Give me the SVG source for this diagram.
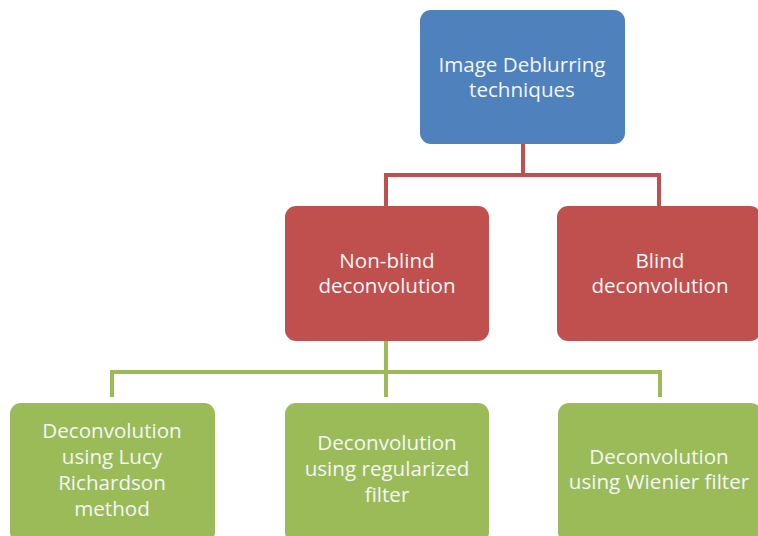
<svg xmlns="http://www.w3.org/2000/svg" width="758" height="536" viewBox="0 0 758 536">
<style>
.blue{fill:#4F81BD}
.red{fill:#C0504D}
.green{fill:#9BBB59}
.t{font-family:"Open Sans","Liberation Sans",Arial,sans-serif;font-size:20.6px;fill:#f4f6f8;text-anchor:middle}
.cr{stroke:#C0504D;stroke-width:4;fill:none}
.cg{stroke:#9BBB59;stroke-width:4;fill:none}
</style>
<rect width="758" height="536" fill="#ffffff"/>
<g id="connectors">
<path class="cr" d="M523,144 V175 M386,175 H660 M386,173 V206 M659,173 V206"/>
<path class="cg" d="M386,341 V397 M112,372 H662 M112,370 V397 M660,370 V397"/>
</g>
<g id="n_top">
<rect class="blue" x="420" y="10" width="205" height="134" rx="11"/>
<text class="t" x="522" y="72">Image Deblurring</text>
<text class="t" x="522" y="97">techniques</text>
</g>
<g id="n_nonblind">
<rect class="red" x="285" y="206" width="204" height="135" rx="11"/>
<text class="t" x="387" y="268">Non-blind</text>
<text class="t" x="387" y="293">deconvolution</text>
</g>
<g id="n_blind">
<rect class="red" x="557" y="206" width="204" height="135" rx="11"/>
<text class="t" x="660" y="268">Blind</text>
<text class="t" x="660" y="293">deconvolution</text>
</g>
<g id="n_lucy">
<rect class="green" x="10" y="403" width="205" height="140" rx="11"/>
<text class="t" x="112" y="438">Deconvolution</text>
<text class="t" x="112" y="464">using Lucy</text>
<text class="t" x="112" y="490">Richardson</text>
<text class="t" x="112" y="516">method</text>
</g>
<g id="n_reg">
<rect class="green" x="285" y="403" width="204" height="140" rx="11"/>
<text class="t" x="387" y="450">Deconvolution</text>
<text class="t" x="387" y="476">using regularized</text>
<text class="t" x="387" y="502">filter</text>
</g>
<g id="n_wiener">
<rect class="green" x="558" y="403" width="204" height="140" rx="11"/>
<text class="t" x="659" y="464">Deconvolution</text>
<text class="t" x="659" y="489">using Wienier  filter</text>
</g>
</svg>
